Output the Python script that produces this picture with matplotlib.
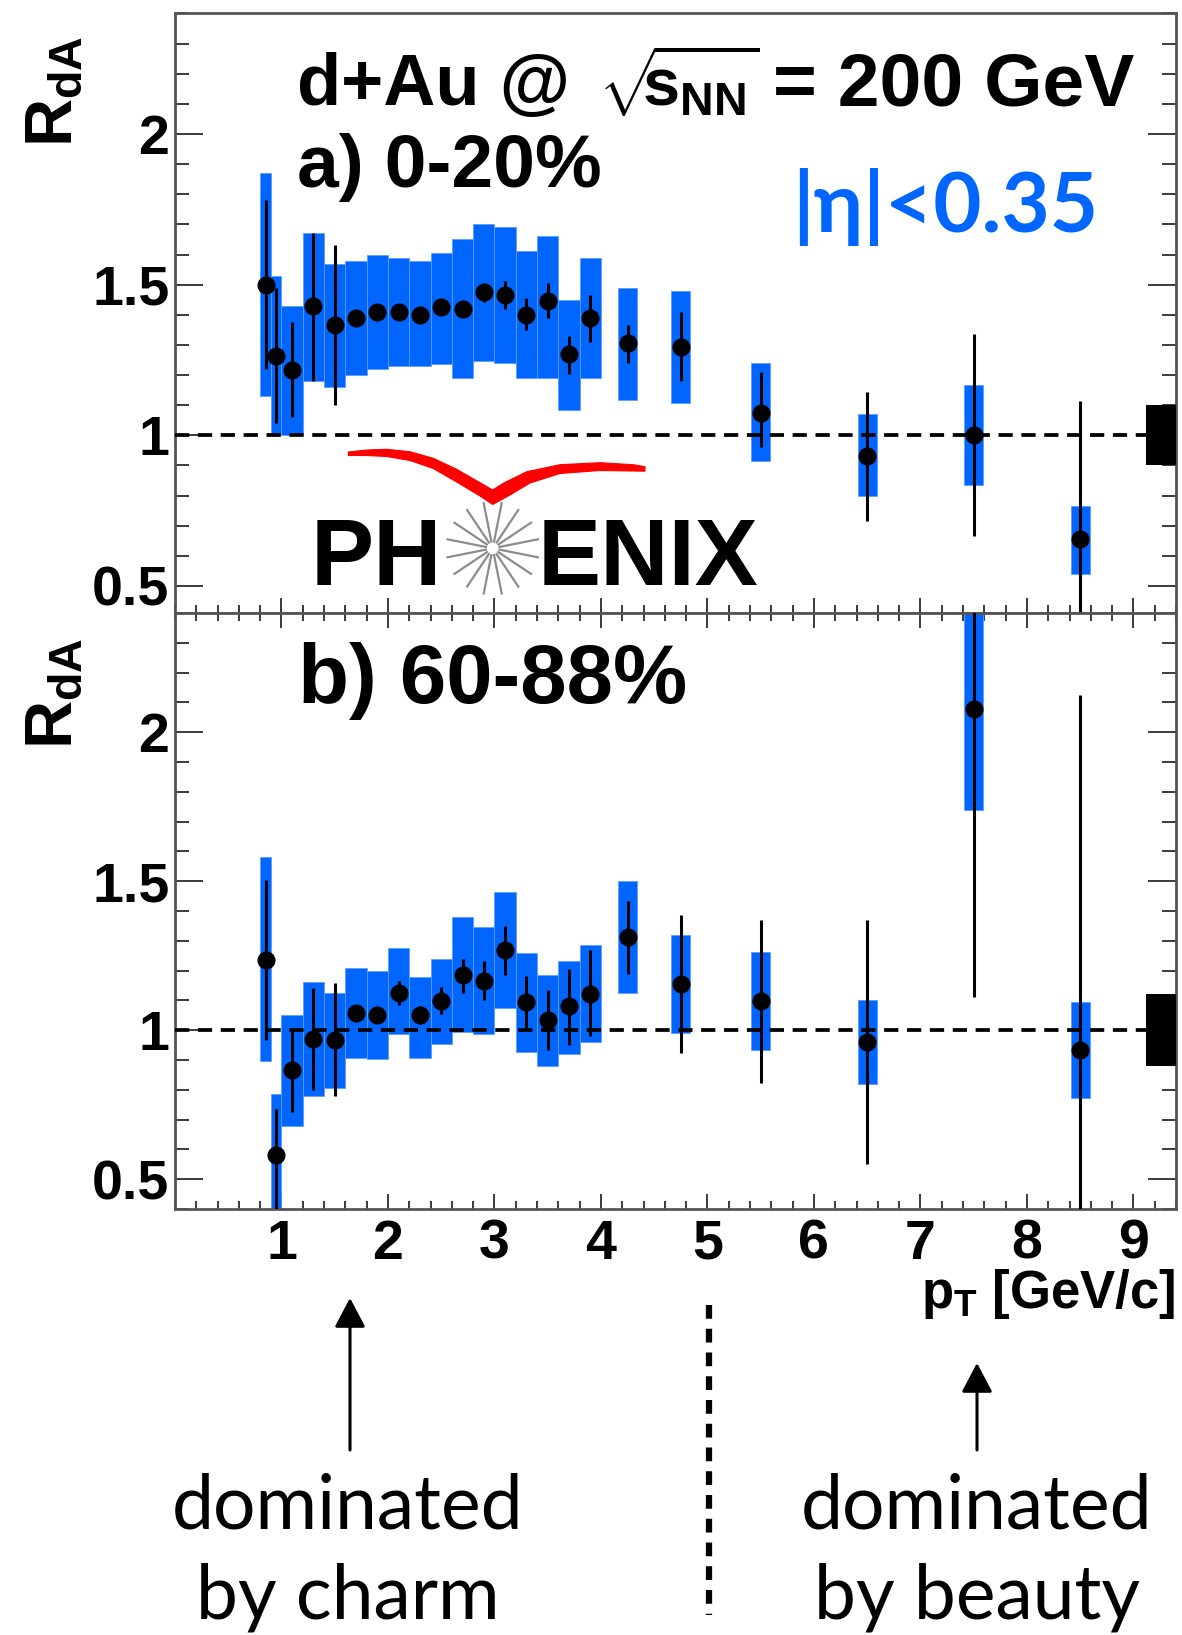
import numpy as np
import matplotlib
matplotlib.use("Agg")
import matplotlib.pyplot as plt
import matplotlib.transforms as mtransforms
from matplotlib.patches import Polygon, FancyArrowPatch
from matplotlib.lines import Line2D
from matplotlib.ticker import FixedLocator, MultipleLocator, FixedFormatter

plt.rcParams['font.family'] = ['Liberation Sans', 'DejaVu Sans']
plt.rcParams['mathtext.fontset'] = 'custom'
plt.rcParams['mathtext.rm'] = 'Liberation Sans:bold'
plt.rcParams['mathtext.it'] = 'Liberation Sans:bold'
plt.rcParams['mathtext.bf'] = 'Liberation Sans:bold'

# ---------------- data ----------------
# pT bin centres [GeV/c]
pt = [0.85, 0.95, 1.1, 1.3, 1.5, 1.7, 1.9, 2.1, 2.3, 2.5, 2.7, 2.9, 3.1,
      3.3, 3.5, 3.7, 3.9, 4.25, 4.75, 5.5, 6.5, 7.5, 8.5]
sys_width = [0.1, 0.1] + [0.2] * 15 + [0.18] * 6

# a) 0-20% central
rda_a = [1.50, 1.263, 1.217, 1.428, 1.366, 1.39, 1.41, 1.41, 1.40, 1.425, 1.42,
         1.474, 1.467, 1.40, 1.445, 1.27, 1.39, 1.305, 1.293, 1.075, 0.93, 1.00, 0.655]
stat_lo_a = [1.22, 1.04, 1.06, 1.18, 1.10, 1.375, 1.395, 1.395, 1.385, 1.41, 1.405,
             1.441, 1.42, 1.349, 1.388, 1.204, 1.309, 1.24, 1.18, 0.96, 0.717, 0.664, 0.20]
stat_hi_a = [1.78, 1.49, 1.375, 1.67, 1.63, 1.405, 1.425, 1.425, 1.415, 1.44, 1.435,
             1.507, 1.513, 1.454, 1.507, 1.33, 1.467, 1.366, 1.41, 1.21, 1.145, 1.335, 1.114]
sys_lo_a = [1.13, 1.00, 1.00, 1.18, 1.16, 1.20, 1.22, 1.23, 1.23, 1.237, 1.19,
            1.247, 1.24, 1.19, 1.19, 1.085, 1.19, 1.116, 1.108, 0.914, 0.80, 0.836, 0.54]
sys_hi_a = [1.87, 1.53, 1.43, 1.67, 1.57, 1.58, 1.60, 1.59, 1.58, 1.605, 1.65,
            1.70, 1.69, 1.61, 1.66, 1.45, 1.59, 1.49, 1.48, 1.24, 1.07, 1.168, 0.766]
norm_a = 0.10

# b) 60-88% peripheral
rda_b = [1.237, 0.581, 0.867, 0.971, 0.967, 1.057, 1.05, 1.126, 1.05, 1.097, 1.186,
         1.166, 1.269, 1.093, 1.033, 1.08, 1.12, 1.3125, 1.156, 1.097, 0.96, 2.077, 0.934]
stat_lo_b = [0.967, 0.38, 0.727, 0.80, 0.78, 1.042, 1.035, 1.086, 1.02, 1.053, 1.126,
             1.10, 1.186, 1.0, 0.934, 0.95, 0.98, 1.189, 0.923, 0.824, 0.55, 1.113, -0.26]
stat_hi_b = [1.505, 0.734, 1.0, 1.14, 1.16, 1.072, 1.065, 1.166, 1.08, 1.146, 1.24,
             1.233, 1.348, 1.182, 1.136, 1.206, 1.269, 1.432, 1.388, 1.37, 1.37, 3.04, 2.126]
sys_lo_b = [0.896, 0.375, 0.68, 0.78, 0.807, 0.907, 0.904, 0.987, 0.907, 0.953, 0.993,
            0.987, 1.073, 0.927, 0.88, 0.92, 0.96, 1.124, 0.989, 0.934, 0.82, 1.738, 0.771]
sys_hi_b = [1.58, 0.787, 1.05, 1.162, 1.126, 1.21, 1.197, 1.277, 1.18, 1.24, 1.38,
            1.346, 1.463, 1.26, 1.186, 1.233, 1.286, 1.499, 1.32, 1.262, 1.10, 2.42, 1.093]
norm_b = 0.12

x_ticks = [1, 2, 3, 4, 5, 6, 7, 8, 9]
x_tick_labels = ['1', '2', '3', '4', '5', '6', '7', '8', '9']
y_ticks = [0.5, 1.0, 1.5, 2.0]
y_tick_labels = ['0.5', '1', '1.5', '2']

BLUE = '#0066ff'
W, H = 1182, 1635

fig = plt.figure(figsize=(W / 100, H / 100), dpi=100)
fig.patch.set_facecolor('white')

# transform: figure pixels measured from the top-left corner
pix = mtransforms.Affine2D().scale(1 / W, -1 / H).translate(0, 1) + fig.transFigure


def frac_box(left, top, right, bottom):
    return [left / W, 1 - bottom / H, (right - left) / W, (bottom - top) / H]


def ftext(x, y, s, **kw):
    """Place text at a position given in figure pixels from the top-left."""
    return fig.text(x / W, 1 - y / H, s, **kw)


ax_a = fig.add_axes(frac_box(175, 13.5, 1176, 613))
ax_b = fig.add_axes(frac_box(175, 613, 1176, 1209))


def draw_panel(ax, rda, stat_lo, stat_hi, sys_lo, sys_hi, norm):
    x = np.array(pt)
    sl, sh = np.array(sys_lo), np.array(sys_hi)
    ax.bar(x, sh - sl, bottom=sl, width=sys_width, color=BLUE,
           edgecolor='#5c9dff', linewidth=0.6, zorder=2)
    ax.axhline(1.0, color='black', lw=2.7, dashes=(3.8, 2.3), zorder=3)
    ax.vlines(x, stat_lo, stat_hi, color='black', lw=2.2, zorder=4)
    ax.plot(x, rda, 'o', color='black', ms=12, zorder=5)
    # global normalisation uncertainty at the right edge
    ax.bar([9.26], [2 * norm], bottom=1 - norm, width=0.28, color='black',
           linewidth=0, zorder=3)
    ax.set_xlim(0, 9.4)
    ax.xaxis.set_major_locator(FixedLocator(x_ticks))
    ax.xaxis.set_major_formatter(FixedFormatter(x_tick_labels))
    ax.xaxis.set_minor_locator(MultipleLocator(0.2))
    ax.yaxis.set_major_locator(FixedLocator(y_ticks))
    ax.yaxis.set_major_formatter(FixedFormatter(y_tick_labels))
    ax.yaxis.set_minor_locator(MultipleLocator(0.1))
    ax.tick_params(which='both', direction='in', left=True, right=True,
                   color='#3a3a3a', width=1.4)
    ax.tick_params(axis='y', which='major', length=20, pad=4)
    ax.tick_params(axis='y', which='minor', length=10)
    ax.tick_params(axis='x', which='major', length=11, pad=7)
    ax.tick_params(axis='x', which='minor', length=5.5)
    for lab in ax.get_yticklabels() + ax.get_xticklabels():
        lab.set_fontsize(40)
        lab.set_fontweight('bold')
    for sp in ax.spines.values():
        sp.set_color('#555555')
        sp.set_linewidth(2.0)


draw_panel(ax_a, rda_a, stat_lo_a, stat_hi_a, sys_lo_a, sys_hi_a, norm_a)
draw_panel(ax_b, rda_b, stat_lo_b, stat_hi_b, sys_lo_b, sys_hi_b, norm_b)
ax_a.set_ylim(0.41, 2.40)
ax_b.set_ylim(0.40, 2.40)
ax_a.tick_params(axis='x', which='both', top=False, labelbottom=False)
ax_b.tick_params(axis='x', which='both', top=True)

# axis titles
ftext(54, 36, r'$R_{dA}$', rotation=90, ha='center', va='top', fontsize=48)
ftext(54, 638, r'$R_{dA}$', rotation=90, ha='center', va='top', fontsize=48)
ftext(1176, 1308, r'$p_{T}$ [GeV/c]', ha='right', va='baseline',
      fontsize=38, fontweight='bold')

# panel annotations
ftext(297, 105, 'd+Au @', va='baseline', fontsize=52, fontweight='bold')
ftext(598, 105, r'$\sqrt{\!\!s_{NN}}$', va='baseline', fontsize=48)
ftext(773, 105, '= 200 GeV', va='baseline', fontsize=54, fontweight='bold')
ftext(297, 187, 'a) 0-20%', va='baseline', fontsize=54, fontweight='bold')
ftext(298, 703, 'b) 60-88%', va='baseline', fontsize=60, fontweight='bold')
ftext(792, 232, '|η|<0.35', va='baseline', color=BLUE, fontsize=60,
      fontweight='bold', family=['Lato', 'DejaVu Sans'])

# PHENIX logo
swoosh = [(348.3, 452), (366.7, 450), (386.7, 449.3), (410, 451.7), (433.3, 458.3),
          (456.7, 469.3), (480, 482.7), (492.7, 490), (503.3, 483.3), (526.7, 471.7),
          (560, 464.7), (600, 462.7), (633.3, 464.7), (645, 466.7), (645, 471.2),
          (633.3, 471), (600, 470.5), (560, 473.5), (530, 483), (510, 495),
          (492.7, 504.5), (480, 496), (456.7, 482), (433.3, 468.5), (410, 460.5),
          (386.7, 456.5), (366.7, 455.5), (348.3, 455.5)]
fig.add_artist(Polygon(swoosh, closed=True, transform=pix, facecolor='#ff0000',
                       edgecolor='#ff0000', linewidth=0.8))
cx, cy = 492.7, 548.3
for k in range(16):
    a = np.deg2rad(11.25 + 22.5 * k)
    fig.add_artist(Line2D([cx + 7 * np.cos(a), cx + 46 * np.cos(a)],
                          [cy - 7 * np.sin(a), cy - 46 * np.sin(a)],
                          transform=pix, color='#8c8c8c', lw=1.6))
ftext(311, 585, 'PH', va='baseline', fontsize=68, fontweight='bold')
ftext(538, 585, 'ENIX', va='baseline', fontsize=68, fontweight='bold')

# charm / beauty annotations below the axis
for x0, y_tip in ((350, 1298), (977, 1363)):
    fig.add_artist(FancyArrowPatch((x0, 1450), (x0, y_tip), transform=pix,
                                   arrowstyle='-|>,head_length=1.8,head_width=0.95',
                                   mutation_scale=10, color='black', lw=2.2,
                                   shrinkA=0, shrinkB=0))
fig.add_artist(Line2D([709, 709], [1305, 1615], transform=pix, color='black',
                      lw=4.5, dashes=(2.2, 1.6), solid_capstyle='butt',
                      dash_capstyle='butt'))
for x0, l1, l2 in ((348, 'dominated', 'by charm'), (977, 'dominated', 'by beauty')):
    ftext(x0, 1528, l1, ha='center', va='baseline', fontsize=54,
          family=['Lato', 'DejaVu Sans'])
    ftext(x0, 1618, l2, ha='center', va='baseline', fontsize=54,
          family=['Lato', 'DejaVu Sans'])

fig.savefig('out.png', dpi=100, facecolor='white')
